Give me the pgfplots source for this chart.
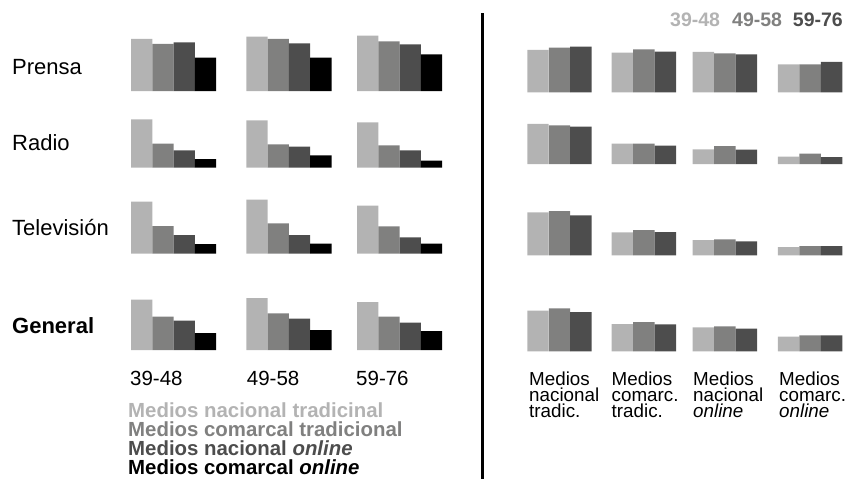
\documentclass[border=0pt]{standalone}
\usepackage{pgfplots}
\pgfplotsset{compat=1.18}
\usepackage{fontspec}
\setmainfont{Liberation Sans}

\definecolor{c1}{RGB}{179,179,179}
\definecolor{c2}{RGB}{128,128,127}
\definecolor{c3}{RGB}{77,77,77}
\definecolor{c4}{RGB}{0,0,0}

% one axis per row, x and y in picture pixels (1px = 1pt)
\pgfplotsset{
  rowax/.style={ybar, bar shift=0pt, x=1pt, y=1pt, ymin=0, ymax=60,
    hide axis, clip=false, anchor=south west},
  leftrow/.style={rowax, bar width=21.3, xmin=120, xmax=450},
  rightrow/.style={rowax, bar width=21.45, xmin=515, xmax=850},
}

\begin{document}
\begin{tikzpicture}[x=1pt,y=1pt]

% ---- left: rows = medium, groups = age, bars = media type
\begin{axis}[leftrow, at={(120pt,-91pt)}]
\addplot[fill=c1,draw=none] coordinates {(141.65,52) (256.95,54.3) (367.65,55.3)};
\addplot[fill=c2,draw=none] coordinates {(162.95,47) (278.25,52) (388.95,49.7)};
\addplot[fill=c3,draw=none] coordinates {(184.25,48.7) (299.55,47.7) (410.25,46.7)};
\addplot[fill=c4,draw=none] coordinates {(205.55,33.3) (320.85,33.3) (431.55,36.7)};
\end{axis}
\begin{axis}[leftrow, at={(120pt,-167.7pt)}]
\addplot[fill=c1,draw=none] coordinates {(141.65,48.4) (256.95,47.4) (367.65,45.4)};
\addplot[fill=c2,draw=none] coordinates {(162.95,24) (278.25,23.4) (388.95,22.4)};
\addplot[fill=c3,draw=none] coordinates {(184.25,17.4) (299.55,21) (410.25,17.4)};
\addplot[fill=c4,draw=none] coordinates {(205.55,8.7) (320.85,12.4) (431.55,7)};
\end{axis}
\begin{axis}[leftrow, at={(120pt,-253.7pt)}]
\addplot[fill=c1,draw=none] coordinates {(141.65,52) (256.95,54) (367.65,48)};
\addplot[fill=c2,draw=none] coordinates {(162.95,27.7) (278.25,30.4) (388.95,27.4)};
\addplot[fill=c3,draw=none] coordinates {(184.25,18.7) (299.55,18.7) (410.25,16.4)};
\addplot[fill=c4,draw=none] coordinates {(205.55,9.7) (320.85,10) (431.55,10)};
\end{axis}
\begin{axis}[leftrow, at={(120pt,-350pt)}]
\addplot[fill=c1,draw=none] coordinates {(141.65,50.3) (256.95,52) (367.65,48)};
\addplot[fill=c2,draw=none] coordinates {(162.95,33.3) (278.25,36.7) (388.95,33.3)};
\addplot[fill=c3,draw=none] coordinates {(184.25,29.3) (299.55,31.3) (410.25,27.3)};
\addplot[fill=c4,draw=none] coordinates {(205.55,17) (320.85,20) (431.55,19)};
\end{axis}

% ---- right: groups = media type, bars = age
\begin{axis}[rightrow, at={(515pt,-92.3pt)}]
\addplot[fill=c1,draw=none] coordinates {(538.0,42.3) (622.4,39.7) (703.4,40.3) (788.7,28)};
\addplot[fill=c2,draw=none] coordinates {(559.5,44.7) (643.9,43) (724.9,39) (810.2,28)};
\addplot[fill=c3,draw=none] coordinates {(580.9,45.7) (665.3,40.7) (746.3,38) (831.6,30.3)};
\end{axis}
\begin{axis}[rightrow, at={(515pt,-164pt)}]
\addplot[fill=c1,draw=none] coordinates {(538.0,40) (622.4,20.3) (703.4,14.7) (788.7,7.3)};
\addplot[fill=c2,draw=none] coordinates {(559.5,38.7) (643.9,20.3) (724.9,18) (810.2,10.3)};
\addplot[fill=c3,draw=none] coordinates {(580.9,37.3) (665.3,18.3) (746.3,14.3) (831.6,7)};
\end{axis}
\begin{axis}[rightrow, at={(515pt,-255.3pt)}]
\addplot[fill=c1,draw=none] coordinates {(538.0,43) (622.4,23) (703.4,15.3) (788.7,8.3)};
\addplot[fill=c2,draw=none] coordinates {(559.5,44.3) (643.9,25.3) (724.9,16) (810.2,9.3)};
\addplot[fill=c3,draw=none] coordinates {(580.9,40) (665.3,23.3) (746.3,14) (831.6,9.3)};
\end{axis}
\begin{axis}[rightrow, at={(515pt,-351.3pt)}]
\addplot[fill=c1,draw=none] coordinates {(538.0,40.6) (622.4,27.3) (703.4,24) (788.7,14.6)};
\addplot[fill=c2,draw=none] coordinates {(559.5,43) (643.9,29.3) (724.9,25) (810.2,16)};
\addplot[fill=c3,draw=none] coordinates {(580.9,39.3) (665.3,27) (746.3,22.6) (831.6,16)};
\end{axis}

% divider
\draw[line width=2.6pt] (482.3pt,-13pt) -- (482.3pt,-479pt);

% row labels
\begin{scope}[every node/.style={anchor=base west, inner sep=0pt, font=\fontsize{22}{26}\selectfont}]
\node at (12pt,-74.3pt) {Prensa};
\node at (12pt,-150.5pt) {Radio};
\node at (12pt,-235pt) {Televisión};
\node at (12pt,-333pt) {\bfseries General};
\end{scope}

% age labels under left groups
\begin{scope}[every node/.style={anchor=base west, inner sep=0pt, font=\fontsize{20.5}{24}\selectfont}]
\node at (130pt,-385pt) {39-48};
\node at (246.7pt,-385pt) {49-58};
\node at (356pt,-385pt) {59-76};
\end{scope}

% left legend, one block (last line has no descender: south west = its baseline)
\node[anchor=south west, inner sep=0pt, align=left,
      font=\fontsize{20.4}{18.9}\selectfont\bfseries] at (128pt,-475pt)
  {\textcolor{c1}{Medios nacional tradicinal}\\
   \textcolor{c2}{Medios comarcal tradicional}\\
   \textcolor{c3}{Medios nacional \textit{online}}\\
   \textcolor{c4}{Medios comarcal \textit{online}}};

% right legend
\begin{scope}[every node/.style={anchor=base west, inner sep=0pt, font=\fontsize{19.5}{23}\selectfont\bfseries}]
\node[text=c1] at (670pt,-26pt) {39-48};
\node[text=c2] at (732pt,-26pt) {49-58};
\node[text=c3] at (792.7pt,-26pt) {59-76};
\end{scope}

% media type labels under right groups
\begin{scope}[every node/.style={anchor=south west, inner sep=0pt, align=left,
      font=\fontsize{18.8}{16.25}\selectfont}]
\node at (529pt,-418pt) {Medios\\nacional\\tradic.};
\node at (611.5pt,-418pt) {Medios\\comarc.\\tradic.};
\node at (693pt,-418pt) {Medios\\nacional\\\textit{online}};
\node at (779pt,-418pt) {Medios\\comarc.\\\textit{online}};
\end{scope}

\pgfresetboundingbox
\path[use as bounding box] (0pt,0pt) rectangle (853pt,-479pt);
\end{tikzpicture}
\end{document}
